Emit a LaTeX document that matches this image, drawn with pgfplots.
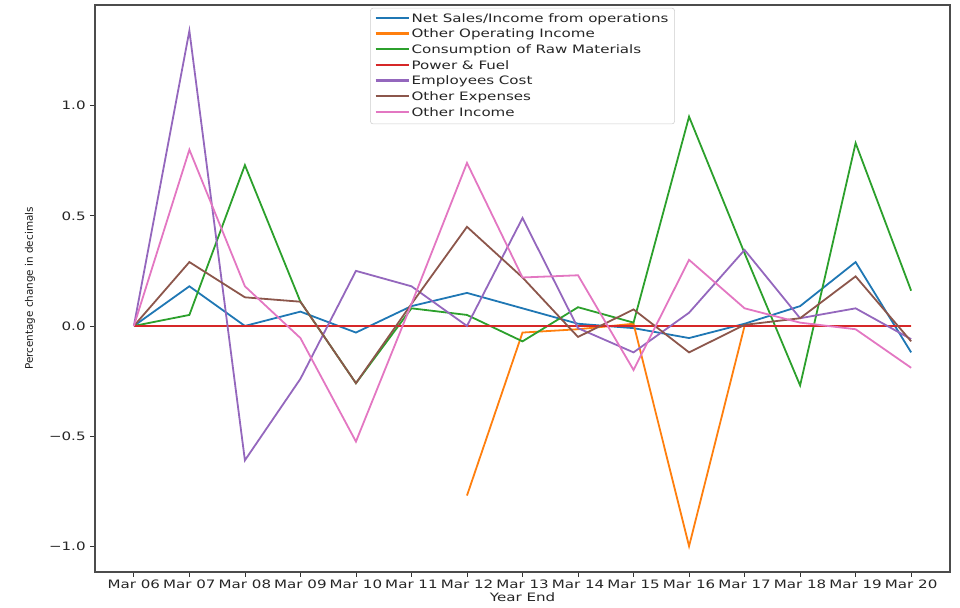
\documentclass[border=0pt]{standalone}
\usepackage{fontspec}
\setmainfont{DejaVu Sans}[FakeStretch=1.3]
\newfontfamily\ylabfont{DejaVu Sans}
\usepackage{pgfplots}
\pgfplotsset{compat=1.18}
\definecolor{tabblue}{HTML}{1F77B4}
\definecolor{taborange}{HTML}{FF7F0E}
\definecolor{tabgreen}{HTML}{2CA02C}
\definecolor{tabred}{HTML}{D62728}
\definecolor{tabpurple}{HTML}{9467BD}
\definecolor{tabbrown}{HTML}{8C564B}
\definecolor{tabpink}{HTML}{E377C2}
\begin{document}
\begin{tikzpicture}
\begin{axis}[
  at={(0,0)}, anchor=south west,
  scale only axis, width=641.25pt, height=425.25pt,
  xmin=-0.7, xmax=14.7, ymin=-1.117, ymax=1.457,
  xtick={0,...,14},
  xticklabels={Mar 06,Mar 07,Mar 08,Mar 09,Mar 10,Mar 11,Mar 12,Mar 13,Mar 14,Mar 15,Mar 16,Mar 17,Mar 18,Mar 19,Mar 20},
  ytick={-1,-0.5,0,0.5,1},
  yticklabels={−1.0,−0.5,0.0,0.5,1.0},
  xtick pos=left, ytick pos=left,
  tick align=outside, major tick length=3.5pt,
  tick style={black!80, line width=0.6pt},
  axis line style={black!70, line width=0.8pt},
  /pgf/number format/assume math mode=true,
  tick label style={font=\fontsize{8.7}{10}\selectfont, text=black!85},
  xticklabel style={inner sep=1pt, yshift=-1pt},
  xlabel={Year End},
  ylabel={Percentage change in decimals},
  xlabel style={at={(axis description cs:0.5,-0.0441)}, anchor=center, font=\fontsize{8.7}{10}\selectfont, text=black!85},
  ylabel style={at={(axis description cs:-0.076,0.5)}, anchor=center, font=\ylabfont\fontsize{7.8}{9}\selectfont, text=black!90},
  legend style={at={(0.5,0.995)}, anchor=north, draw=black!20, rounded corners=2pt,
    font=\fontsize{8.7}{10}\selectfont, text=black!85,
    inner xsep=3pt, inner ysep=2.5pt,
    nodes={inner sep=1.5pt, text height=6.6pt, text depth=1.8pt},
    row sep=0.35pt},
  legend cell align=left,
  legend image code/.code={\draw[#1, line width=1.6pt] (-2pt,0.9pt) -- (22.75pt,0.9pt);},
  every axis plot/.append style={line width=1.35pt, line join=miter},
]
\addplot[tabblue] coordinates {(0,0) (1,0.18) (2,0.0) (3,0.065) (4,-0.03) (5,0.09) (6,0.15) (7,0.08) (8,0.01) (9,-0.01) (10,-0.055) (11,0.01) (12,0.09) (13,0.29) (14,-0.12)};
\addlegendentry{Net Sales/Income from operations}
\addplot[taborange] coordinates {(6,-0.77) (7,-0.03) (8,-0.015) (9,0.01) (10,-1.0) (11,0.0) (12,0) (13,0) (14,0)};
\addlegendentry{Other Operating Income}
\addplot[tabgreen] coordinates {(0,0) (1,0.05) (2,0.73) (3,0.11) (4,-0.26) (5,0.08) (6,0.05) (7,-0.07) (8,0.085) (9,0.015) (10,0.95) (11,0.33) (12,-0.27) (13,0.83) (14,0.16)};
\addlegendentry{Consumption of Raw Materials}
\addplot[tabred] coordinates {(0,0) (1,0) (2,0) (3,0) (4,0) (5,0) (6,0) (7,0) (8,0) (9,0) (10,0) (11,0) (12,0) (13,0) (14,0)};
\addlegendentry{Power \& Fuel}
\addplot[tabpurple] coordinates {(0,0) (1,1.34) (2,-0.61) (3,-0.24) (4,0.25) (5,0.18) (6,0.0) (7,0.49) (8,-0.01) (9,-0.12) (10,0.06) (11,0.345) (12,0.035) (13,0.08) (14,-0.06)};
\addlegendentry{Employees Cost}
\addplot[tabbrown] coordinates {(0,0) (1,0.29) (2,0.13) (3,0.11) (4,-0.26) (5,0.1) (6,0.45) (7,0.22) (8,-0.05) (9,0.075) (10,-0.12) (11,0.005) (12,0.035) (13,0.225) (14,-0.07)};
\addlegendentry{Other Expenses}
\addplot[tabpink] coordinates {(0,0) (1,0.8) (2,0.18) (3,-0.055) (4,-0.525) (5,0.1) (6,0.74) (7,0.22) (8,0.23) (9,-0.2) (10,0.3) (11,0.08) (12,0.015) (13,-0.015) (14,-0.19)};
\addlegendentry{Other Income}
\end{axis}
\pgfresetboundingbox
\path[use as bounding box] (-71.25pt,-26.25pt) rectangle (648.75pt,429pt);
\end{tikzpicture}
\end{document}
